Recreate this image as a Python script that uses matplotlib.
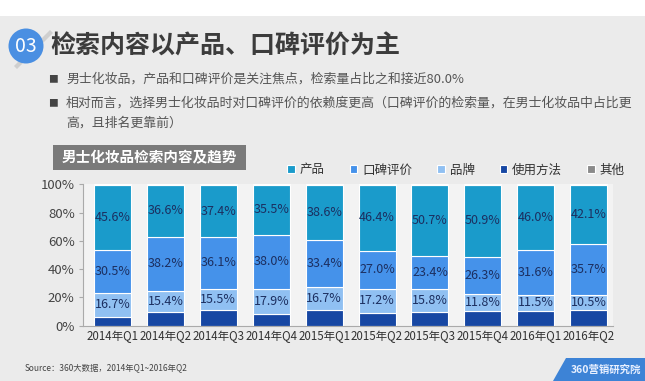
import matplotlib
matplotlib.use("Agg")
import matplotlib.pyplot as plt
from matplotlib.patches import Rectangle, Circle, Polygon
import numpy as np

plt.rcParams['font.family'] = ['Noto Sans CJK SC', 'DejaVu Sans']

categories = ['2014年Q1', '2014年Q2', '2014年Q3', '2014年Q4', '2015年Q1',
              '2015年Q2', '2015年Q3', '2015年Q4', '2016年Q1', '2016年Q2']
usage = [6.5, 9.4, 10.8, 8.2, 10.8, 8.9, 9.9, 10.6, 10.5, 11.3]
brand = [16.7, 15.4, 15.5, 17.9, 16.7, 17.2, 15.8, 11.8, 11.5, 10.5]
reputation = [30.5, 38.2, 36.1, 38.0, 33.4, 27.0, 23.4, 26.3, 31.6, 35.7]
product = [45.6, 36.6, 37.4, 35.5, 38.6, 46.4, 50.7, 50.9, 46.0, 42.1]
other = [round(100 - u - b - r - p, 1) for u, b, r, p in zip(usage, brand, reputation, product)]

series_names = ['产品', '口碑评价', '品牌', '使用方法', '其他']
colors = {'产品': '#1a9bcb', '口碑评价': '#4592ea', '品牌': '#90c0f2',
          '使用方法': '#1747a3', '其他': '#8a8a8a'}
yticks = [0, 20, 40, 60, 80, 100]
ytick_labels = ['0%', '20%', '40%', '60%', '80%', '100%']

W, H = 645, 381
fig = plt.figure(figsize=(W / 100, H / 100), dpi=100)
fig.patch.set_facecolor('#ebebeb')

def fx(x):
    return x / W

def fy(y):
    return 1 - y / H

# top white band
fig.add_artist(Rectangle((0, fy(16)), 1, 16 / H, transform=fig.transFigure,
                         facecolor='white', edgecolor='none', zorder=0))

# "03" badge
fig.add_artist(Polygon([(fx(14), fy(66)), (fx(50), fy(30)), (fx(53), fy(33)), (fx(17), fy(69))],
                       closed=True, transform=fig.transFigure, facecolor='#cfcfcf',
                       edgecolor='none', zorder=1))
fig.add_artist(Circle((0.26, (H - 46) / 100), 0.175, transform=fig.dpi_scale_trans,
                      facecolor='#4a8fe2', edgecolor='none', zorder=2))
fig.text(fx(26), fy(46), '03', color='white', fontsize=14, ha='center', va='center',
         zorder=3)

fig.text(fx(50), fy(47), '检索内容以产品、口碑评价为主', fontsize=18, fontweight='bold',
         color='#3c3c3c', ha='left', va='center')

bullet_color = '#555555'
fig.text(fx(48), fy(79), '■', fontsize=7, color='#444444', ha='left', va='center')
fig.text(fx(66), fy(79), '男士化妆品，产品和口碑评价是关注焦点，检索量占比之和接近80.0%',
         fontsize=9.3, color=bullet_color, ha='left', va='center')
fig.text(fx(48), fy(103), '■', fontsize=7, color='#444444', ha='left', va='center')
fig.text(fx(66), fy(103), '相对而言，选择男士化妆品时对口碑评价的依赖度更高（口碑评价的检索量，在男士化妆品中占比更',
         fontsize=9.3, color=bullet_color, ha='left', va='center')
fig.text(fx(66), fy(123), '高，且排名更靠前）', fontsize=9.3, color=bullet_color,
         ha='left', va='center')

# chart header box
fig.add_artist(Rectangle((fx(53), fy(170)), (246 - 53) / W, 25 / H, transform=fig.transFigure,
                         facecolor='#7a7a7a', edgecolor='none'))
fig.text(fx(62), fy(157.5), '男士化妆品检索内容及趋势', fontsize=10.5, fontweight='bold',
         color='white', ha='left', va='center')

# axes
ax = fig.add_axes([fx(83), fy(325.7), (613 - 83) / W, (325.7 - 184.3) / H])
ax.set_facecolor('#f3f3f3')
x = np.arange(len(categories))
width = 0.70
stack = [('使用方法', usage), ('品牌', brand), ('口碑评价', reputation),
         ('产品', product), ('其他', other)]
bottom = np.zeros(len(categories))
handles = {}
for name, vals in stack:
    vals = np.array(vals, dtype=float)
    bars = ax.bar(x, vals, width, bottom=bottom, color=colors[name],
                  edgecolor='white', linewidth=0.8, label=name)
    handles[name] = bars
    if name in ('品牌', '口碑评价', '产品'):
        for xi, b, v in zip(x, bottom, vals):
            ax.text(xi, b + v / 2, f'{v:.1f}%', ha='center', va='center',
                    fontsize=9, color='#1c2f60')
    bottom += vals

ax.set_xlim(-0.558, 9.46)
ax.set_ylim(0, 100)
ax.set_yticks(yticks)
ax.set_yticklabels(ytick_labels)
ax.set_xticks(x)
ax.set_xticklabels(categories)
ax.tick_params(axis='y', labelsize=9.5, colors='#444444', length=3, color='#aaaaaa', pad=3)
ax.tick_params(axis='x', labelsize=8.3, colors='#333333', length=0, pad=3)
for s in ('top', 'right'):
    ax.spines[s].set_visible(False)
for s in ('left', 'bottom'):
    ax.spines[s].set_color('#aaaaaa')
    ax.spines[s].set_linewidth(0.8)

leg = fig.legend([handles[n] for n in series_names], series_names, ncol=5,
                 loc='center right', bbox_to_anchor=(fx(636), fy(170)),
                 frameon=False, fontsize=9, handlelength=0.6, handleheight=0.6,
                 handletextpad=0.4, columnspacing=2.0)
for t in leg.get_texts():
    t.set_color('#333333')

fig.text(fx(25), fy(368), 'Source：360大数据，2014年Q1~2016年Q2', fontsize=6,
         color='#444444', ha='left', va='center')

# logo
fig.add_artist(Polygon([(fx(553), fy(381)), (fx(566), fy(358)), (fx(645), fy(358)), (fx(645), fy(381))],
                       closed=True, transform=fig.transFigure, facecolor='#3d83d6',
                       edgecolor='none'))
fig.text(fx(606), fy(370), '360营销研究院', fontsize=7.5, color='#e8f0ff', ha='center',
         va='center', fontweight='bold')

fig.savefig('out.png', dpi=100, facecolor=fig.get_facecolor())
